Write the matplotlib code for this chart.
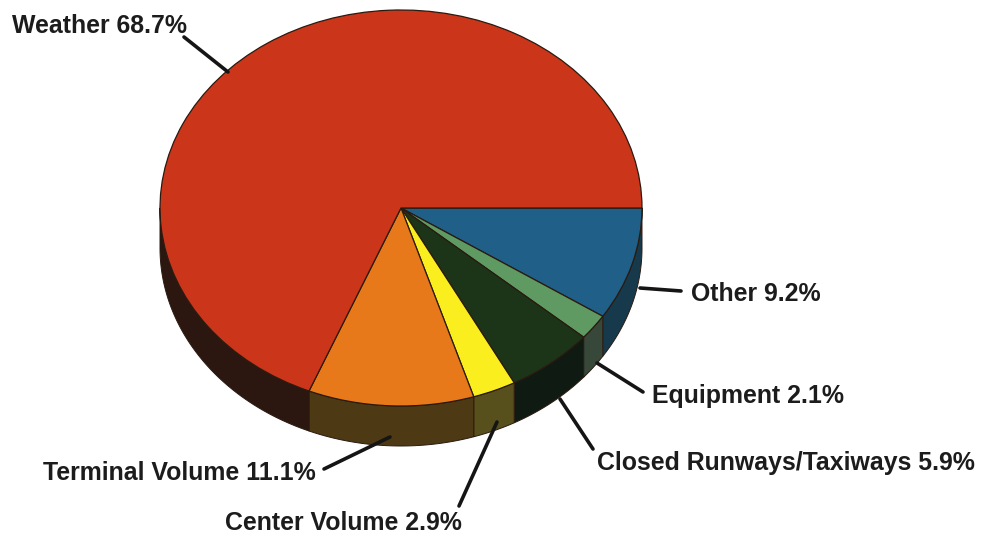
import numpy as np
import matplotlib.pyplot as plt

# slices, clockwise from 3 o'clock
labels = ['Other', 'Equipment', 'Closed Runways/Taxiways', 'Center Volume', 'Terminal Volume', 'Weather']
shares = [9.2, 2.1, 5.9, 2.9, 11.1, 68.7]

top_colors = ['#1f5f88', '#5f9a62', '#1c3518', '#fbee1e', '#e8791a', '#cb361a']
side_colors = ['#17394c', '#37473a', '#0e1a12', '#57501c', '#4d3a14', '#2b1710']

# label placement in pixels: text left/middle, leader start, leader end
text_pos = [(691, 294), (652, 396), (597, 463), (225, 523), (43, 473), (12, 26)]
leader_from = [(681, 291), (643, 392), (593, 449), (459, 506), (324, 469), (184, 37)]
leader_to = [(640, 288), (597, 363), (560, 399), (497, 422), (390, 437), (228, 72)]

W, H = 984, 535
cx, cy, rx, ry, depth = 401, 208, 241, 198, 40
edge = '#2a1a10'

fig = plt.figure(figsize=(W / 100, H / 100), dpi=100, facecolor='white')

# pie axes stretched to the ellipse of the top face
ax = fig.add_axes([(cx - rx) / W, 1 - (cy + ry) / H, 2 * rx / W, 2 * ry / H])
wedges, _ = ax.pie(shares, colors=top_colors, startangle=0, counterclock=False,
                   wedgeprops={'edgecolor': edge, 'linewidth': 0.9, 'zorder': 3})
ax.set_aspect('auto')
ax.set_xlim(-1, 1)
ax.set_ylim(-1, 1)
for w in wedges:
    w.set_clip_on(False)

# rim of the disc: only the part of each slice on the lower half shows
d = depth / ry
for w, c in zip(wedges, side_colors):
    a1, a2 = w.theta1 % 360, w.theta2
    a2 = a1 + (a2 - w.theta1)
    a1c, a2c = max(a1, 180), min(a2, 360)
    if a2c <= a1c:
        continue
    t = np.radians(np.linspace(a1c, a2c, 80))
    xs = np.r_[np.cos(t), np.cos(t[::-1])]
    ys = np.r_[np.sin(t), np.sin(t[::-1]) - d]
    ax.fill(xs, ys, facecolor=c, edgecolor=edge, linewidth=0.7, zorder=2, clip_on=False)

# overlay in pixel coordinates for labels and leaders
ov = fig.add_axes([0, 0, 1, 1], facecolor='none')
ov.set_xlim(0, W)
ov.set_ylim(H, 0)
ov.axis('off')

for name, val, tp, p0, p1 in zip(labels, shares, text_pos, leader_from, leader_to):
    ov.text(tp[0], tp[1], f'{name} {val}%', family='Liberation Sans', fontweight='bold',
            fontsize=17.9, color='#1c1c1c', ha='left', va='center')
    ov.plot([p0[0], p1[0]], [p0[1], p1[1]], color='#151515', lw=2.6, solid_capstyle='round')

plt.savefig('out.png', dpi=100)
